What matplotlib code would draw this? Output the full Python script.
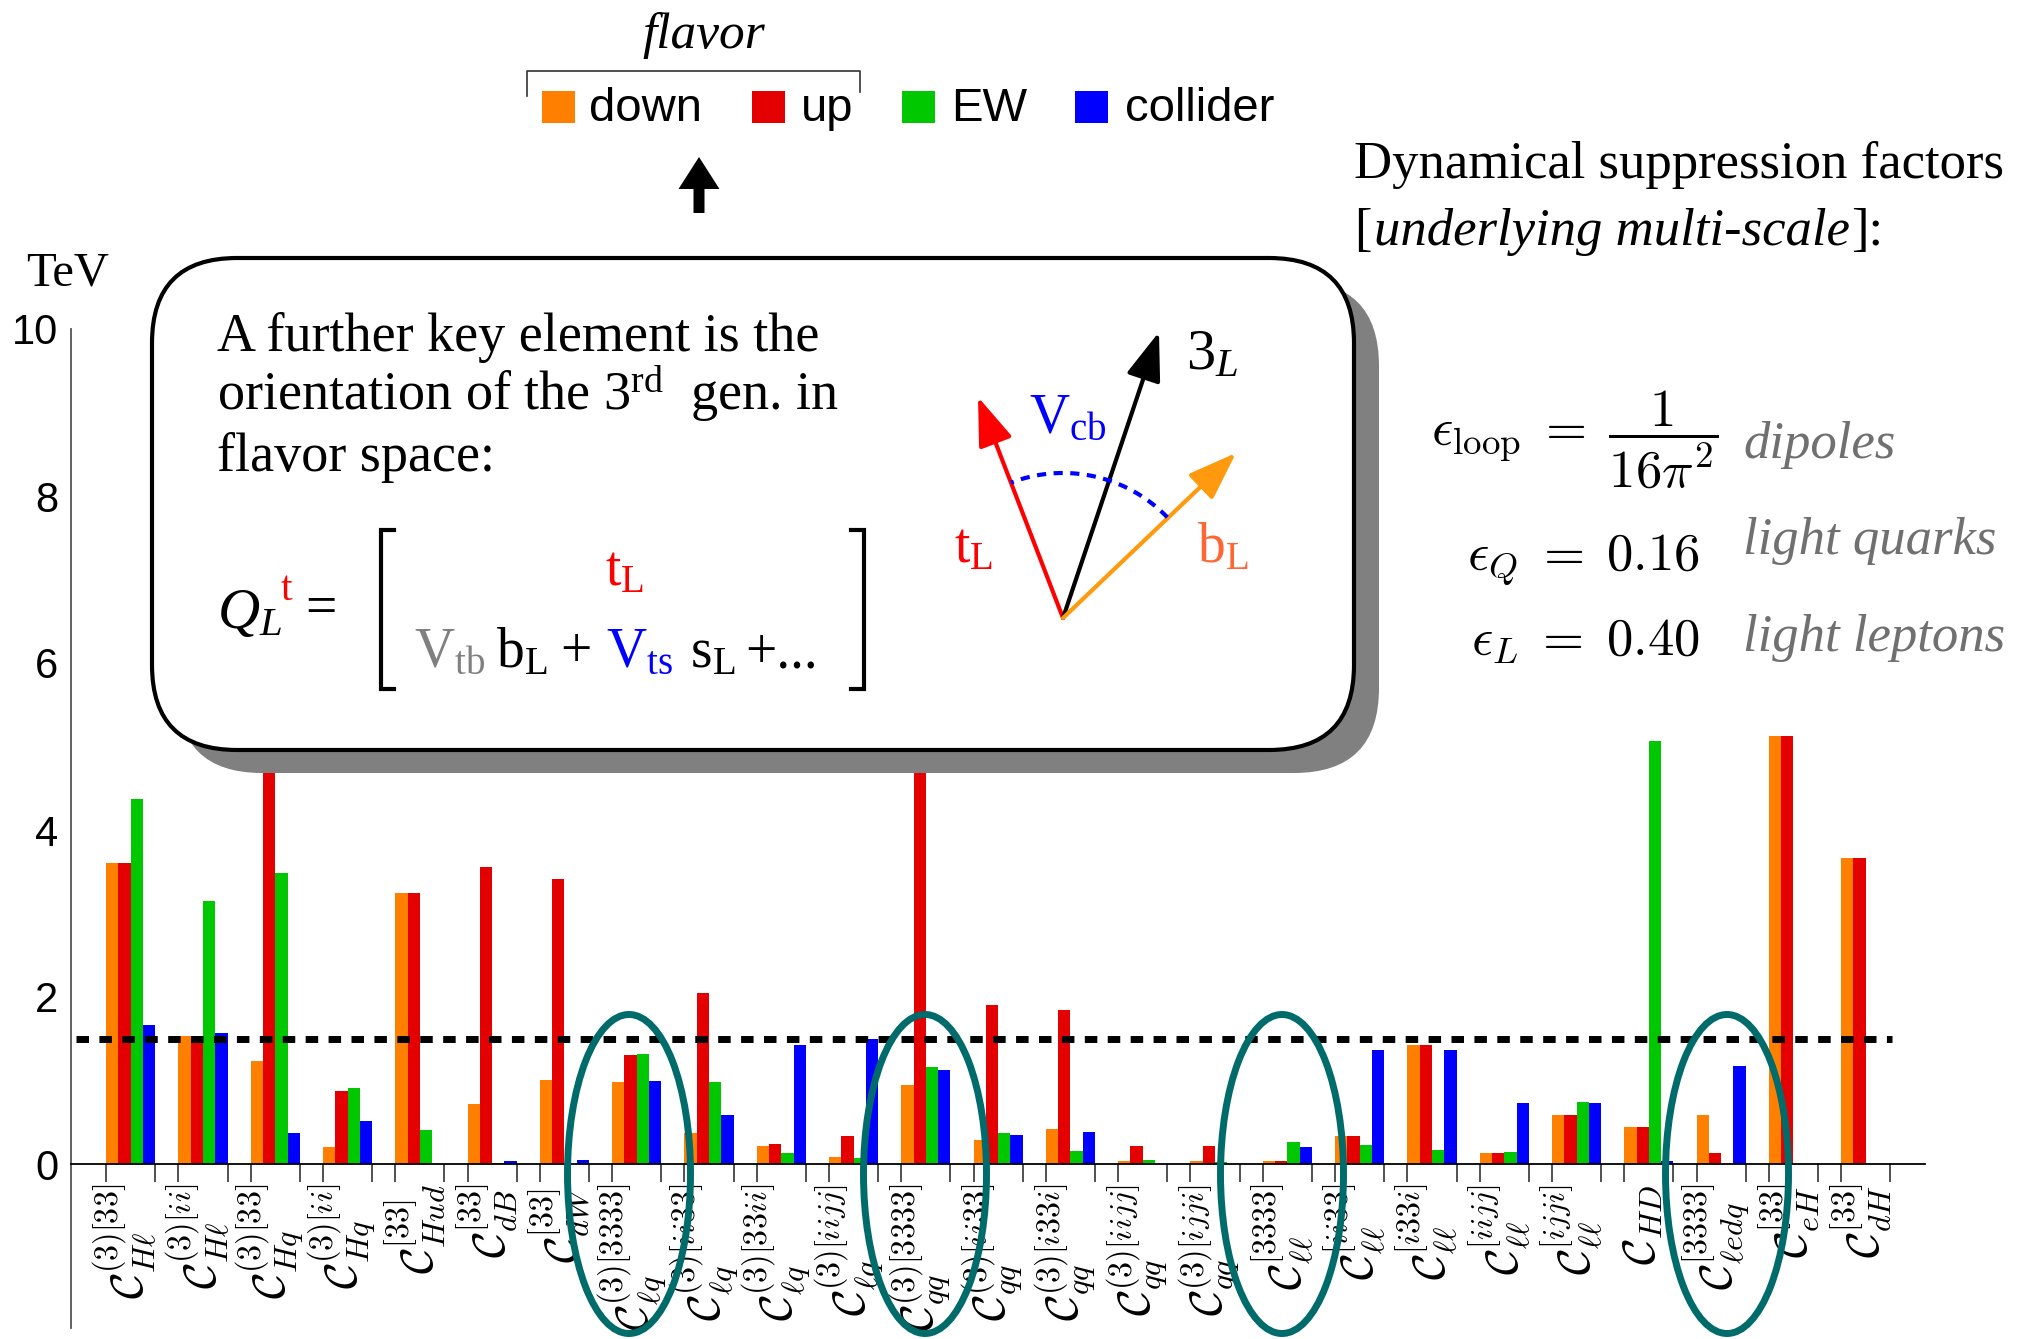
import matplotlib
matplotlib.use('Agg')
import matplotlib.pyplot as plt
from matplotlib import patches
from matplotlib.transforms import blended_transform_factory
import numpy as np

plt.rcParams['mathtext.fontset'] = 'custom'
plt.rcParams['mathtext.rm'] = 'Liberation Serif'
plt.rcParams['mathtext.it'] = 'Liberation Serif:italic'
plt.rcParams['mathtext.bf'] = 'Liberation Serif:bold'
plt.rcParams['font.family'] = ['Liberation Serif', 'DejaVu Serif']

# ---------------- data ----------------
categories = [
    r'$\mathcal{C}_{H\ell}^{(3)[33]}$', r'$\mathcal{C}_{H\ell}^{(3)[ii]}$',
    r'$\mathcal{C}_{Hq}^{(3)[33]}$', r'$\mathcal{C}_{Hq}^{(3)[ii]}$',
    r'$\mathcal{C}_{Hud}^{[33]}$', r'$\mathcal{C}_{dB}^{[33]}$',
    r'$\mathcal{C}_{dW}^{[33]}$', r'$\mathcal{C}_{\ell q}^{(3)[3333]}$',
    r'$\mathcal{C}_{\ell q}^{(3)[ii33]}$', r'$\mathcal{C}_{\ell q}^{(3)[33ii]}$',
    r'$\mathcal{C}_{\ell q}^{(3)[iijj]}$', r'$\mathcal{C}_{qq}^{(3)[3333]}$',
    r'$\mathcal{C}_{qq}^{(3)[ii33]}$', r'$\mathcal{C}_{qq}^{(3)[i33i]}$',
    r'$\mathcal{C}_{qq}^{(3)[iijj]}$', r'$\mathcal{C}_{qq}^{(3)[ijji]}$',
    r'$\mathcal{C}_{\ell\ell}^{[3333]}$', r'$\mathcal{C}_{\ell\ell}^{[ii33]}$',
    r'$\mathcal{C}_{\ell\ell}^{[i33i]}$', r'$\mathcal{C}_{\ell\ell}^{[iijj]}$',
    r'$\mathcal{C}_{\ell\ell}^{[ijji]}$', r'$\mathcal{C}_{HD}$',
    r'$\mathcal{C}_{\ell edq}^{[3333]}$', r'$\mathcal{C}_{eH}^{[33]}$',
    r'$\mathcal{C}_{dH}^{[33]}$',
]
down = [3.60, 1.53, 1.23, 0.20, 3.25, 0.72, 1.01, 0.98, 0.37, 0.21, 0.08, 0.945, 0.29,
        0.42, 0.03, 0.03, 0.03, 0.34, 1.43, 0.13, 0.59, 0.44, 0.59, 5.12, 3.66]
up = [3.60, 1.53, 7.0, 0.87, 3.25, 3.56, 3.41, 1.30, 2.05, 0.24, 0.34, 7.0, 1.90,
      1.84, 0.215, 0.215, 0.03, 0.34, 1.43, 0.13, 0.59, 0.44, 0.13, 5.12, 3.66]
ew = [4.37, 3.15, 3.49, 0.905, 0.41, 0.01, 0.0, 1.32, 0.98, 0.13, 0.07, 1.16, 0.37,
      0.155, 0.045, 0.025, 0.26, 0.23, 0.17, 0.14, 0.74, 5.06, 0.0, 0.0, 0.0]
collider = [1.66, 1.57, 0.37, 0.51, 0.0, 0.03, 0.045, 1.00, 0.59, 1.43, 1.50, 1.12, 0.35,
            0.38, 0.0, 0.0, 0.20, 1.37, 1.36, 0.73, 0.73, 0.035, 1.17, 0.0, 0.0]
series_names = ['down', 'up', 'EW', 'collider']
series_colors = ['#ff8000', '#e40000', '#00c800', '#0000ff']
threshold = 1.5
yticks = [0, 2, 4, 6, 8, 10]

# ---------------- figure ----------------
W, H = 2022, 1339
fig = plt.figure(figsize=(W / 100, H / 100), dpi=100)
ax = fig.add_axes([71 / W, 1 - 1164 / H, 1854 / W, 835 / H])

x = np.arange(len(categories))
bw = 0.17
for k, (vals, c) in enumerate(zip([down, up, ew, collider], series_colors)):
    ax.bar(x + k * bw, vals, width=bw, align='edge', color=c, linewidth=0, zorder=2)

ax.plot([-0.41, 24.70], [threshold, threshold], color='black', lw=5,
        dashes=(1.8, 1.5), dash_capstyle='butt', zorder=3)

ax.set_xlim(-0.485, 25.16)
ax.set_ylim(0, 10)
ax.set_yticks(yticks)
ax.set_yticklabels([str(v) for v in yticks], fontfamily='Liberation Sans', fontsize=30)
ax.tick_params(axis='y', length=0, pad=9)
ax.set_xticks(np.concatenate([x, x + 4 * bw]))
ax.set_xticklabels([])
ax.tick_params(axis='x', length=13, width=1.2, color='#333333', direction='out')
for s in ['top', 'right', 'left']:
    ax.spines[s].set_visible(False)
ax.spines['bottom'].set_linewidth(1.3)
ax.plot([0, 0], [-0.196, 1], transform=ax.transAxes, clip_on=False, color='#555555', lw=1.3)

trans = blended_transform_factory(ax.transData, ax.transAxes)
for xi, lab in zip(x, categories):
    t = ax.text(xi + 2 * bw - 0.07, -0.024, lab, transform=trans, rotation=90,
                ha='center', va='top', fontsize=33)
    t.set_math_fontfamily('cm')

# ---------------- overlay (pixel coordinates) ----------------
ov = fig.add_axes([0, 0, 1, 1], zorder=5)
ov.set_xlim(0, W)
ov.set_ylim(H, 0)
ov.axis('off')

# TeV
ov.text(26, 286, 'TeV', fontsize=35, va='baseline', ha='left')

# legend
sq_x = [542, 752, 902, 1075]
txt_x = [589, 801, 951, 1125]
for sx, tx, nm, c in zip(sq_x, txt_x, series_names, series_colors):
    ov.add_patch(patches.Rectangle((sx, 91), 33, 32, fc=c, ec='none'))
    ov.text(tx, 121, nm, fontfamily='Liberation Sans', fontsize=34, va='baseline', ha='left')
ov.plot([527, 527, 860, 860], [96, 71, 71, 92], color='#333333', lw=1.2)
ov.text(704, 48, 'flavor', fontstyle='italic', fontsize=37, ha='center', va='baseline')
ov.add_patch(patches.FancyArrow(699, 213, 0, -56, width=11, head_width=41, head_length=32,
                                length_includes_head=True, fc='black', ec='none'))

# right-side text
r = fig.canvas.get_renderer()
ov.text(1354, 178, 'Dynamical suppression factors', fontsize=38, va='baseline')
xx = 1354
for s, st in [('[', 'normal'), ('underlying multi-scale', 'italic'), (']:', 'normal')]:
    t = ov.text(xx, 245, s, fontsize=38, fontstyle=st, va='baseline')
    xx += t.get_window_extent(renderer=r).width + 2

for s, xr, yy, va in [(r'$\epsilon_{\mathrm{loop}}\;=\;\dfrac{1}{16\pi^2}$', 1718, 440, 'center'),
                      (r'$\epsilon_Q\;=\;0.16$', 1700, 570, 'baseline'),
                      (r'$\epsilon_L\;=\;0.40$', 1700, 655, 'baseline')]:
    t = ov.text(xr, yy, s, fontsize=38, ha='right', va=va)
    t.set_math_fontfamily('cm')
for s, yy in [('dipoles', 458), ('light quarks', 554), ('light leptons', 651)]:
    ov.text(1743, yy, s, fontsize=38, fontstyle='italic', color='#707070', va='baseline')

# box with shadow
bx, by, bwid, bhei = 152, 258, 1202, 492
ov.add_patch(patches.FancyBboxPatch((bx + 25, by + 23), bwid, bhei,
                                    boxstyle='round,pad=0,rounding_size=85',
                                    fc='#808080', ec='none'))
ov.add_patch(patches.FancyBboxPatch((bx, by), bwid, bhei,
                                    boxstyle='round,pad=0,rounding_size=85',
                                    fc='white', ec='black', lw=3))

fs = 39
ov.text(217, 351, 'A further key element is the', fontsize=fs, va='baseline')
ov.text(217, 410, r'orientation of the 3$^{\mathrm{rd}}$  gen. in', fontsize=fs, va='baseline')
ov.text(217, 471, 'flavor space:', fontsize=fs, va='baseline')

# Q_L^t = [ ... ]
ov.text(217, 628, r'$Q_L$', fontsize=42, va='baseline')
ov.text(281, 600, 't', fontsize=30, color='red', va='baseline')
ov.text(305, 624, '=', fontsize=40, va='baseline')
for xs, sgn in [(381, 1), (864, -1)]:
    ov.plot([xs + sgn * 13, xs, xs, xs + sgn * 13], [530, 530, 689, 689], color='black', lw=3,
            solid_joinstyle='miter')
ov.text(605, 585, r'$\mathrm{t}_{\mathrm{L}}$', fontsize=40, color='red', va='baseline')
ov.text(414, 667, r'$\mathrm{V}_{\mathrm{tb}}$', fontsize=40, color='#808080', va='baseline')
ov.text(496, 667, r'$\mathrm{b}_{\mathrm{L}}$', fontsize=40, color='black', va='baseline')
ov.text(560, 667, '+', fontsize=40, color='black', va='baseline')
ov.text(606, 667, r'$\mathrm{V}_{\mathrm{ts}}$', fontsize=40, color='#0000ff', va='baseline')
ov.text(690, 667, r'$\mathrm{s}_{\mathrm{L}}$', fontsize=40, color='black', va='baseline')
ov.text(745, 667, '+...', fontsize=40, color='black', va='baseline')

# vector diagram
ox, oy = 1063, 618
th = np.linspace(np.radians(44), np.radians(111), 80)
rad = 145
ov.plot(ox + rad * np.cos(th), oy - rad * np.sin(th), color='#0000ff', lw=3,
        dashes=(2.2, 1.8))
for tip, c in [((978, 397), '#ff0000'), ((1159, 332), 'black'), ((1236, 453), '#ff9a0e')]:
    ov.add_patch(patches.FancyArrowPatch((ox, oy), tip,
                                         arrowstyle=patches.ArrowStyle('-|>', head_length=1.0,
                                                                       head_width=0.36),
                                         mutation_scale=30, color=c, lw=3,
                                         shrinkA=0, shrinkB=0))
ov.text(1186, 355, r'$3_L$', fontsize=42, va='center')
ov.text(1029, 419, r'$\mathrm{V}_{\mathrm{cb}}$', fontsize=40, color='#0000ff', va='center')
ov.text(954, 548, r'$\mathrm{t}_{\mathrm{L}}$', fontsize=40, color='#ff0000', va='center')
ov.text(1197, 548, r'$\mathrm{b}_{\mathrm{L}}$', fontsize=40, color='#ff6633', va='center')

# teal ellipses
for cx in [629, 925, 1282, 1727]:
    ov.add_patch(patches.Ellipse((cx, 1174), 123, 319, fill=False, ec='#006b6b', lw=5))

fig.savefig('out.png', dpi=100)
